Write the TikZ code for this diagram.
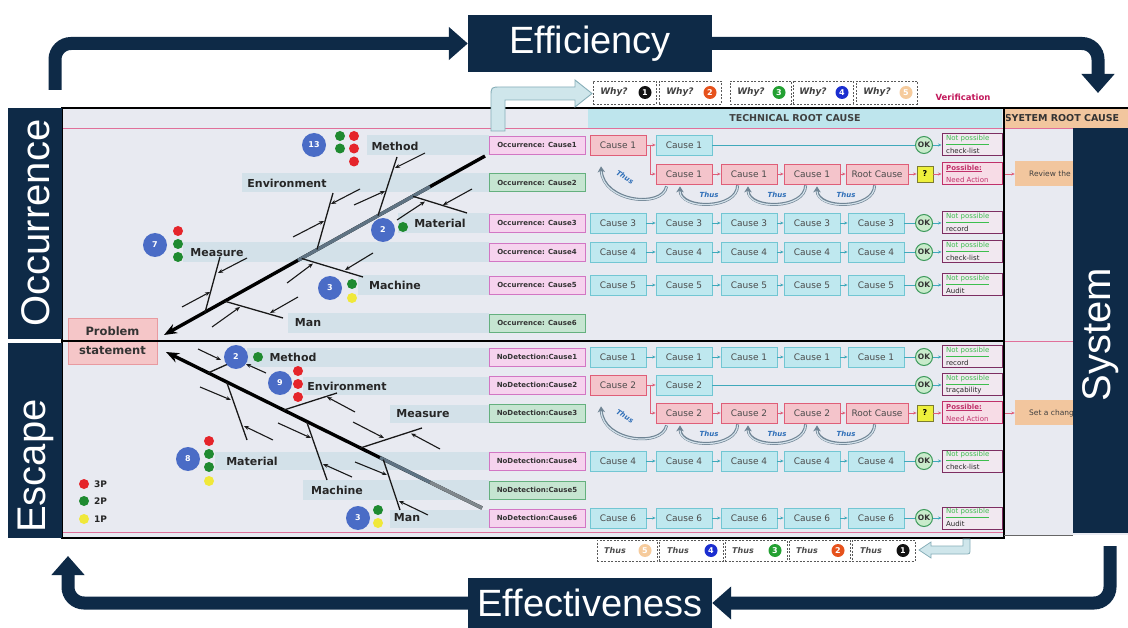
\documentclass[tikz,border=0pt]{standalone}
\usepackage{fontspec}
\setmainfont{DejaVu Sans}
\newfontfamily\arialf{Liberation Sans}
\usetikzlibrary{arrows.meta,calc}
\newcommand{\myfs}[1]{\fontsize{#1}{#1}\selectfont}
\definecolor{navy}{HTML}{0E2A47}
\definecolor{framebg}{HTML}{E8EAF1}
\definecolor{bandc}{HTML}{D3E1E9}
\definecolor{pinkf}{HTML}{F6D3EE}
\definecolor{pinkd}{HTML}{D276C4}
\definecolor{greenf}{HTML}{C6E5D1}
\definecolor{greend}{HTML}{64B07E}
\definecolor{cyanf}{HTML}{BFE8EF}
\definecolor{cyand}{HTML}{72C6D3}
\definecolor{redf}{HTML}{F4C4CB}
\definecolor{redd}{HTML}{DF5E78}
\definecolor{okf}{HTML}{C9EBCB}
\definecolor{okd}{HTML}{3E9A5C}
\definecolor{verd}{HTML}{7D2E62}
\definecolor{verf}{HTML}{F1E8F0}
\definecolor{posd}{HTML}{C0306A}
\definecolor{posf}{HTML}{F7DCE6}
\definecolor{peach}{HTML}{F2C69E}
\definecolor{hdrc}{HTML}{BEE5ED}
\definecolor{bluec}{HTML}{4A6CC6}
\definecolor{dred}{HTML}{E5252B}
\definecolor{dgreen}{HTML}{1F8A30}
\definecolor{dyellow}{HTML}{F0E83A}
\definecolor{n1}{HTML}{111111}
\definecolor{n2}{HTML}{E6521C}
\definecolor{n3}{HTML}{23A032}
\definecolor{n4}{HTML}{1B2ED0}
\definecolor{n5}{HTML}{F6CB9C}
\definecolor{thusc}{HTML}{2F6FB8}
\definecolor{crimson}{HTML}{C2185B}
\definecolor{arrg}{HTML}{6F8494}
\definecolor{arrin}{HTML}{D3E1EA}
\definecolor{holf}{HTML}{CFE6EB}
\definecolor{hold}{HTML}{86AEB8}
\definecolor{carc}{HTML}{3FA9BB}
\definecolor{npg}{HTML}{3DBE4E}
\definecolor{qf}{HTML}{EEF03C}
\definecolor{qd}{HTML}{7C7C30}
\definecolor{pinkline}{HTML}{E0709A}
\definecolor{spineg}{HTML}{5F7383}
\definecolor{probf}{HTML}{F5C6C8}
\definecolor{probd}{HTML}{E89AA0}
\tikzset{
  band/.style={fill=bandc, draw=none},
  catlbl/.style={font=\myfs{11}\bfseries, text=black!85, inner sep=0pt},
  bigc/.style={circle, fill=bluec, minimum size=24pt, inner sep=0pt, text=white, font=\myfs{8}\bfseries},
  cdot/.style={circle, fill=#1, minimum size=10pt, inner sep=0pt},
  causeP/.style={draw=pinkd, fill=pinkf, line width=0.8pt, minimum width=96pt, minimum height=18pt, inner sep=0pt, font=\myfs{7}\bfseries, text=black!80},
  causeG/.style={causeP, draw=greend, fill=greenf},
  cbox/.style={draw=cyand, fill=cyanf, line width=0.8pt, minimum width=56pt, minimum height=20pt, inner sep=0pt, font=\myfs{9}, text=black!70},
  rbox/.style={cbox, draw=redd, fill=redf},
  okc/.style={circle, draw=okd, fill=okf, line width=1pt, minimum size=17pt, inner sep=0pt, font=\myfs{7.5}\bfseries, text=black!80},
  verbox/.style={draw=verd, fill=verf, line width=1pt, minimum width=60pt, minimum height=22pt, inner sep=0pt},
  posbox/.style={verbox, draw=posd, fill=posf},
  qbox/.style={draw=qd, fill=qf, line width=0.8pt, minimum size=16pt, inner sep=0pt, font=\myfs{8}\bfseries},
  peachbox/.style={fill=peach, minimum width=64pt, minimum height=25pt, inner sep=0pt},
  peachtxt/.style={font=\myfs{7.5}, text=black!75, inner sep=0pt, anchor=west},
  carr/.style={-{Stealth[length=3.5pt,width=3pt]}, draw=carc, line width=0.7pt},
  cline/.style={draw=carc, line width=0.7pt},
  rarr/.style={-{Stealth[length=3.5pt,width=3pt]}, draw=redd, line width=0.8pt},
  bone/.style={line width=1.3pt, draw=black!90},
  smarr/.style={-{Stealth[length=5pt,width=4pt]}, line width=1.1pt, draw=black!90},
  spine/.style={line width=3.4pt, draw=black, -{Stealth[length=13pt,width=10pt]}},
  thusarr/.style={-{Stealth[length=6pt,width=7.5pt]}, draw=arrg, line width=3pt},
  thusin/.style={draw=arrin, line width=1.2pt, shorten >=5pt, shorten <=0.6pt},
  thuslbl/.style={font=\myfs{7}\bfseries\itshape, text=thusc, inner sep=0pt},
  whybox/.style={draw=black!65, dash pattern=on 2pt off 1.5pt, line width=0.7pt, fill=white, minimum height=23pt, inner sep=0pt},
  whytxt/.style={font=\myfs{9}\bfseries\itshape, text=black!75, inner sep=0pt},
  thustxt/.style={font=\myfs{8}\bfseries\itshape, text=black!70, inner sep=0pt},
  numc/.style={circle, fill=#1, minimum size=13pt, inner sep=0pt, text=white, font=\myfs{8}\bfseries},
  navybox/.style={fill=navy, text=white, inner sep=0pt, font=\arialf\myfs{38}},
  navyarr/.style={draw=navy, line width=13pt, rounded corners=16pt, -{Triangle[length=19pt,width=32pt]}},
  sidelbl/.style={text=white, font=\arialf\myfs{40}, inner sep=0pt},
  nptxt/.style={font=\myfs{7}, text=npg, inner sep=0pt, anchor=west},
  sectxt/.style={font=\myfs{7}, text=black!85, inner sep=0pt, anchor=west},
  postxt/.style={font=\myfs{7}\bfseries, text=posd, inner sep=0pt, anchor=west},
  postxtb/.style={font=\myfs{7}, text=posd, inner sep=0pt, anchor=west},
  pinkl/.style={draw=pinkline, line width=0.8pt},
  legtxt/.style={font=\myfs{9}\bfseries, text=black!85, inner sep=0pt, anchor=west},
}
\begin{document}
\begin{tikzpicture}[x=1pt,y=-1pt]
\useasboundingbox (0,0) rectangle (1128,628);
\fill[white] (0,0) rectangle (1128,628);

% ---------- frame backgrounds
\fill[framebg] (62,108) rectangle (1004,538);
\fill[framebg] (1004,108) rectangle (1128,535);
\fill[hdrc] (588,108) rectangle (1002,128);
\node[font=\myfs{9.5}\bfseries, text=black!75] (trc) at (795,118.5) {TECHNICAL ROOT CAUSE};
\fill[peach] (1004,108) rectangle (1128,128);
\begin{scope}
  \clip (1006,108) rectangle (1128,128);
  \node[font=\myfs{9.5}\bfseries, text=black!80] (src) at (1062,118.5) {SYETEM ROOT CAUSE};
\end{scope}
\draw[pinkl] (62,128.5) -- (1073,128.5);
\draw[pinkl] (1004,341) -- (1073,341);
\draw[pinkl] (62,532) -- (1004,532);

% ---------- bands
\fill[band] (367,135) rectangle (489,155);
\fill[band] (242,173) rectangle (489,192);
\fill[band] (398,213) rectangle (489,233);
\fill[band] (183,242) rectangle (489,262);
\fill[band] (358,275) rectangle (489,295);
\fill[band] (288,313) rectangle (489,333);
\fill[band] (247,348) rectangle (489,367);
\fill[band] (303,377) rectangle (489,395);
\fill[band] (390,405) rectangle (489,423);
\fill[band] (215,452) rectangle (489,470);
\fill[band] (303,480) rectangle (489,500);
\fill[band] (390,510) rectangle (489,528);

% ---------- cause column
\node[causeP] (k1) at (537,145) {Occurrence: Cause1};
\node[causeG] (k2) at (537,182.5) {Occurrence: Cause2};
\node[causeP] (k3) at (537,223) {Occurrence: Cause3};
\node[causeP] (k4) at (537,252) {Occurrence: Cause4};
\node[causeP] (k5) at (537,285) {Occurrence: Cause5};
\node[causeG] (k6) at (537,323) {Occurrence: Cause6};
\node[causeP] (m1) at (537,357) {NoDetection:Cause1};
\node[causeP] (m2) at (537,385) {NoDetection:Cause2};
\node[causeG] (m3) at (537,413) {NoDetection:Cause3};
\node[causeP] (m4) at (537,461) {NoDetection:Cause4};
\node[causeG] (m5) at (537,490) {NoDetection:Cause5};
\node[causeP] (m6) at (537,518) {NoDetection:Cause6};

% ---------- OK + verification boxes
\foreach \r/\y/\s in {o1/145/check-list, o3/223/record, o4/252/check-list, o5/285/Audit, e1/357/record, e2/385/traçability, e4/461/check-list, e6/518/Audit} {
  \node[okc] (\r-ok) at (924,\y) {OK};
  \node[verbox] (\r-v) at (972,\y) {};
  \node[nptxt] (\r-v1) at (946,{\y-5}) {\underline{Not possible}};
  \node[sectxt] (\r-v2) at (946,{\y+5.5}) {\s};
  \draw[carr] (\r-ok) -- (\r-v);
}

% ---------- full cyan chains
\foreach \r/\y/\n in {o3/223/3, o4/252/4, o5/285/5, e1/357/1, e4/461/4, e6/518/6} {
  \foreach \i/\x in {1/618, 2/684, 3/749, 4/812, 5/876} {
    \node[cbox] (\r-c\i) at (\x,\y) {Cause \n};
  }
  \foreach \i/\j in {1/2, 2/3, 3/4, 4/5} {
    \draw[carr] (\r-c\i) -- (\r-c\j);
  }
  \draw[cline] (\r-c5) -- (\r-ok);
}

% ---------- rows with a red first cause
\foreach \r/\y/\n in {o1/145/1, e2/385/2} {
  \node[rbox] (\r-r) at (618,\y) {Cause \n};
  \node[cbox] (\r-c1) at (684,\y) {Cause \n};
  \draw[rarr] (\r-r) -- (\r-c1);
  \draw[cline] (\r-c1) -- (\r-ok);
}

% ---------- red chains
\foreach \r/\y/\n/\rt/\pr in {o2/174/1/o1/Review the process, e3/413/2/e2/Set a change} {
  \node[rbox] (\r-a) at (684,\y) {Cause \n};
  \node[rbox] (\r-b) at (749,\y) {Cause \n};
  \node[rbox] (\r-c) at (812,\y) {Cause \n};
  \node[rbox, minimum width=62pt] (\r-d) at (877,\y) {Root Cause};
  \node[qbox] (\r-q) at (925,\y) {?};
  \node[posbox] (\r-v) at (972,\y) {};
  \node[postxt] (\r-v1) at (946,{\y-5.5}) {\underline{Possible:}};
  \node[postxtb] (\r-v2) at (946,{\y+5.5}) {Need Action};
  \node[peachbox] (\r-p) at (1047,\y) {};
  \node[peachtxt] (\r-pt) at (1029,\y) {\pr};
  \draw[rarr] ($(\rt-r.east)+(4,0)$) |- (\r-a.west);
  \draw[rarr] (\r-a) -- (\r-b);
  \draw[rarr] (\r-b) -- (\r-c);
  \draw[rarr] (\r-c) -- (\r-d);
  \draw[rarr] (\r-d) -- (\r-q);
  \draw[rarr] (\r-q) -- (\r-v);
  \draw[rarr] (\r-v) -- (\r-p);
  % Thus arcs
  \draw[thusarr] ($(\r-a.south west)+(11,2)$) .. controls +(-4,22) and +(2,36) .. ($(\rt-r.south)+(-17,11)$);
  \draw[thusin] ($(\r-a.south west)+(11,2)$) .. controls +(-4,22) and +(2,36) .. ($(\rt-r.south)+(-17,11)$);
  \node[thuslbl, rotate=-32] (\r-t0) at (625,{\y+3}) {Thus};
  \draw[thusarr] ($(\r-b.south west)+(17,1)$) .. controls +(0,24) and +(0,24) .. ($(\r-a.south)+(-4,2)$);
  \draw[thusin] ($(\r-b.south west)+(17,1)$) .. controls +(0,24) and +(0,24) .. ($(\r-a.south)+(-4,2)$);
  \draw[thusarr] ($(\r-c.south west)+(22,1)$) .. controls +(0,24) and +(0,24) .. ($(\r-b.south)+(-1,2)$);
  \draw[thusin] ($(\r-c.south west)+(22,1)$) .. controls +(0,24) and +(0,24) .. ($(\r-b.south)+(-1,2)$);
  \draw[thusarr] ($(\r-d.south west)+(29,1)$) .. controls +(0,24) and +(0,24) .. ($(\r-c.south)+(5,2)$);
  \draw[thusin] ($(\r-d.south west)+(29,1)$) .. controls +(0,24) and +(0,24) .. ($(\r-c.south)+(5,2)$);
  \node[thuslbl] (\r-t1) at (709,{\y+21}) {Thus};
  \node[thuslbl] (\r-t2) at (777,{\y+21}) {Thus};
  \node[thuslbl] (\r-t3) at (846,{\y+21}) {Thus};
}

% ---------- problem statement
\node[fill=probf, draw=probd, line width=0.8pt, minimum width=89pt, minimum height=46pt, inner sep=0pt, align=center, font=\fontsize{11.5}{19}\selectfont\bfseries, text=black!80] (prob) at (112.5,341) {Problem\\statement};

% ---------- frame borders
\draw[line width=2.6pt] (62,108) rectangle (1004,538);
\draw[line width=2.4pt] (62,341) -- (1004,341);
\draw[line width=2pt] (1004,108) -- (1128,108);
\draw[line width=1pt, black!60] (1004,535) -- (1073,535);

% ---------- category labels
\node[catlbl] (om) at (395,146) {Method};
\node[catlbl] (oe) at (287,183) {Environment};
\node[catlbl] (oma) at (440,223) {Material};
\node[catlbl] (ome) at (217,253) {Measure};
\node[catlbl] (omc) at (395,285) {Machine};
\node[catlbl] (omn) at (308,323) {Man};
\node[catlbl] (em) at (293,357) {Method};
\node[catlbl] (ee) at (347,386) {Environment};
\node[catlbl] (eme) at (423,414) {Measure};
\node[catlbl] (ema) at (252,461) {Material};
\node[catlbl] (emc) at (337,490) {Machine};
\node[catlbl] (emn) at (407,518) {Man};

% ---------- occurrence fishbone
\coordinate (os0) at (485,156);
\coordinate (os1) at (164,335);
\draw[spine] (os0) -- (os1);
\draw[line width=3.4pt, draw=spineg] (430,186.7) -- (298,260.3);
\draw[bone] (397,157) -- (378,215.6);
\draw[smarr] (425,153) -- (395,168);
\draw[smarr] (354,205) -- (385,191);
\draw[bone] (333,193) -- (317,249.5);
\draw[smarr] (360,189) -- (331,204);
\draw[smarr] (293,237) -- (324,221);
\draw[bone] (220,257) -- (205,312.5);
\draw[smarr] (247,258) -- (218,273);
\draw[smarr] (182,307) -- (210,292);
\draw[bone] (413,196.3) -- (467,213);
\draw[smarr] (472,189) -- (443,205);
\draw[smarr] (397,220) -- (425,201.5);
\draw[bone] (301.7,258.5) -- (363,277);
\draw[smarr] (373,253) -- (345,270);
\draw[smarr] (287,283) -- (313,263.5);
\draw[bone] (225,301.3) -- (283,318);
\draw[smarr] (298,297) -- (270,313);
\draw[smarr] (212,327) -- (240,307);

% ---------- escape fishbone
\coordinate (es0) at (482,508);
\coordinate (es1) at (166,352);
\draw[spine] (es0) -- (es1);
\draw[line width=3.4pt, draw=spineg] (430,482.3) -- (380,457.6);
\draw[line width=3.4pt, draw=black!40!bandc] (482,508) -- (430,482.3);
\draw[bone] (208,373) -- (228,364);
\draw[smarr] (198,349) -- (221,360);
\draw[smarr] (266,373) -- (246,364);
\draw[bone] (283.3,410.2) -- (337,393);
\draw[smarr] (355,412) -- (327,397);
\draw[bone] (226.7,382.2) -- (247,440);
\draw[smarr] (200,387) -- (231,400);
\draw[smarr] (273,440) -- (244,426);
\draw[bone] (360,448.1) -- (422,428);
\draw[smarr] (353,422) -- (384,438);
\draw[smarr] (440,449) -- (411,433.5);
\draw[bone] (306.7,421.8) -- (327,480);
\draw[smarr] (278,423) -- (311,438);
\draw[smarr] (352,477) -- (323,464);
\draw[bone] (383.3,459.6) -- (400,510);
\draw[smarr] (355,462) -- (387,475);
\draw[smarr] (428,515) -- (399,501);

% ---------- score circles and dots
\node[bigc] (c13) at (314,145) {13};
\node[cdot=dgreen] (c13a) at (340,136) {};
\node[cdot=dgreen] (c13b) at (340,148.5) {};
\node[cdot=dred] (c13c) at (354,136) {};
\node[cdot=dred] (c13d) at (354,148.5) {};
\node[cdot=dred] (c13e) at (354,161.5) {};
\node[bigc] (cm2) at (383,230) {2};
\node[cdot=dgreen] (cm2a) at (403,227) {};
\node[bigc] (c7) at (155,245) {7};
\node[cdot=dred] (c7a) at (178,231) {};
\node[cdot=dgreen] (c7b) at (178,244) {};
\node[cdot=dgreen] (c7c) at (178,257) {};
\node[bigc] (cmc3) at (330,288) {3};
\node[cdot=dgreen] (cmc3a) at (352,284) {};
\node[cdot=dyellow] (cmc3b) at (352,298) {};
\node[bigc] (ce2) at (236,357) {2};
\node[cdot=dgreen] (ce2a) at (258,357) {};
\node[bigc] (ce9) at (280,383) {9};
\node[cdot=dred] (ce9a) at (298,371) {};
\node[cdot=dred] (ce9b) at (298,384) {};
\node[cdot=dred] (ce9c) at (298,397) {};
\node[bigc] (ce8) at (188,459) {8};
\node[cdot=dred] (ce8a) at (209,441) {};
\node[cdot=dgreen] (ce8b) at (209,454) {};
\node[cdot=dgreen] (ce8c) at (209,467) {};
\node[cdot=dyellow] (ce8d) at (209,481) {};
\node[bigc] (ce3) at (358,518) {3};
\node[cdot=dgreen] (ce3a) at (378,510) {};
\node[cdot=dyellow] (ce3b) at (378,523) {};

% ---------- legend
\node[cdot=dred] (lg1) at (84,484) {};
\node[cdot=dgreen] (lg2) at (84,501) {};
\node[cdot=dyellow] (lg3) at (84,519) {};
\node[legtxt] (lt1) at (94,484) {3P};
\node[legtxt] (lt2) at (94,501) {2P};
\node[legtxt] (lt3) at (94,519) {1P};

% ---------- hollow arrows
\filldraw[fill=holf, draw=hold, line width=0.9pt] (491,131) -- (491,97) .. controls (491,87) .. (501,87) -- (575,87) -- (575,80) -- (592,93.5) -- (575,107) -- (575,100) -- (505,100) -- (505,131) -- cycle;
\filldraw[fill=holf, draw=hold, line width=0.8pt] (963,539) -- (963,546) -- (931,546) -- (931,542) -- (919,550) -- (931,558) -- (931,554) -- (965,554) .. controls (970,554) .. (970,549) -- (970,539) -- cycle;

% ---------- why boxes
\node[whybox, minimum width=63pt] (w1) at (624.5,92.5) {};
\node[whybox, minimum width=62pt] (w2) at (690,92.5) {};
\node[whybox, minimum width=61pt] (w3) at (760.5,92.5) {};
\node[whybox, minimum width=60pt] (w4) at (823,92.5) {};
\node[whybox, minimum width=61pt] (w5) at (886.5,92.5) {};
\node[whytxt] (w1t) at (614,92.5) {Why?};
\node[whytxt] (w2t) at (680,92.5) {Why?};
\node[whytxt] (w3t) at (751,92.5) {Why?};
\node[whytxt] (w4t) at (813,92.5) {Why?};
\node[whytxt] (w5t) at (877,92.5) {Why?};
\node[numc=n1] (w1n) at (645,92.5) {1};
\node[numc=n2] (w2n) at (710,92.5) {2};
\node[numc=n3] (w3n) at (779,92.5) {3};
\node[numc=n4] (w4n) at (842,92.5) {4};
\node[numc=n5] (w5n) at (906,92.5) {5};
\node[font=\myfs{8.5}\bfseries, text=crimson, inner sep=0pt] (verif) at (963,97) {Verification};

% ---------- thus boxes
\node[whybox, minimum width=60pt, minimum height=21pt] (t5) at (627,550.5) {};
\node[whybox, minimum width=64pt, minimum height=21pt] (t4) at (691,550.5) {};
\node[whybox, minimum width=62pt, minimum height=21pt] (t3) at (756,550.5) {};
\node[whybox, minimum width=61pt, minimum height=21pt] (t2) at (819.5,550.5) {};
\node[whybox, minimum width=63pt, minimum height=21pt] (t1) at (883.5,550.5) {};
\node[thustxt] (t5t) at (615,550.5) {Thus};
\node[thustxt] (t4t) at (678,550.5) {Thus};
\node[thustxt] (t3t) at (743,550.5) {Thus};
\node[thustxt] (t2t) at (807,550.5) {Thus};
\node[thustxt] (t1t) at (871,550.5) {Thus};
\node[numc=n5] (t5n) at (645,550.5) {5};
\node[numc=n4] (t4n) at (711,550.5) {4};
\node[numc=n3] (t3n) at (775,550.5) {3};
\node[numc=n2] (t2n) at (838,550.5) {2};
\node[numc=n1] (t1n) at (903,550.5) {1};

% ---------- side boxes
\fill[navy] (1073,128) rectangle (1128,533);
\node[sidelbl, rotate=90] (syst) at (1101,335) {System};
\fill[navy] (8,108) rectangle (62,339);
\node[sidelbl, rotate=90] (occt) at (36,223) {Occurrence};
\fill[navy] (8,343) rectangle (62,538);
\node[sidelbl, rotate=90] (esct) at (36,466) {Escape};

% ---------- big loop
\node[navybox, minimum width=244pt, minimum height=57pt] (eff) at (590,43.5) {Efficiency};
\node[navybox, minimum width=244pt, minimum height=50pt] (effv) at (590,603) {Effectiveness};
\coordinate (tl) at (55,90);
\coordinate (tr) at (1098,93);
\coordinate (br) at (1110,546);
\coordinate (bl) at (68,556);
\draw[navyarr] (tl) |- (eff.west);
\draw[navyarr] (eff.east) -| (tr);
\draw[navyarr] (br) |- (effv.east);
\draw[navyarr] (effv.west) -| (bl);
\end{tikzpicture}
\end{document}
